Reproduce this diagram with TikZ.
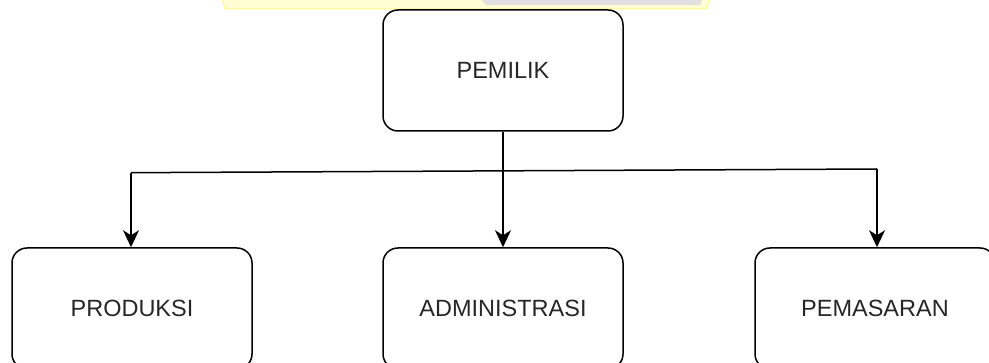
\documentclass[tikz,border=0pt]{standalone}
\usepackage{fontspec}
\setmainfont{Liberation Sans}
\usetikzlibrary{arrows.meta}
\tikzset{
	kotak/.style={draw, line width=1.5pt, rounded corners=15pt, minimum width=240pt, minimum height=121pt, font=\fontsize{23.5}{28}\selectfont, text=black!85},
	garis/.style={line width=1.5pt},
	panah/.style={garis, -{Stealth[length=17pt, width=16pt, inset=5pt]}}
}

\begin{document}
\begin{tikzpicture}[x=1pt, y=-1pt]
		%%%%% START %%%%%
		\useasboundingbox (0, 0) rectangle (989, 363);
		\clip (0, 0) rectangle (989, 363);
		
		% sisa tanda air di atas
		\fill[yellow!18!white, draw=yellow!45!white, line width=1pt] (222, -2) -- (225, 9) -- (706, 9) -- (711, -2) -- cycle;
		\fill[black!12] (480, -2) -- (486, 5) -- (700, 5) -- (703, -2) -- cycle;
		
		\node[kotak] (pemilik) at (503, 70.5) {PEMILIK};
		
		\node[kotak] (produksi) at (132, 308.5) {PRODUKSI};
		\node[kotak] (administrasi) at (503, 308.5) {ADMINISTRASI};
		\node[kotak] (pemasaran) at (875, 308.5) {PEMASARAN};
		
		\coordinate (kiri) at (131, 172.7);
		\coordinate (kanan) at (877, 169);
		
		\draw[garis] (kiri) -- (kanan);
		\draw[panah] (pemilik.south) -- (administrasi.north);
		\draw[panah] (kiri) -- (kiri |- produksi.north);
		\draw[panah] (kanan) -- (kanan |- pemasaran.north);
		
		%%%%% END %%%%%
	\end{tikzpicture}
\end{document}
